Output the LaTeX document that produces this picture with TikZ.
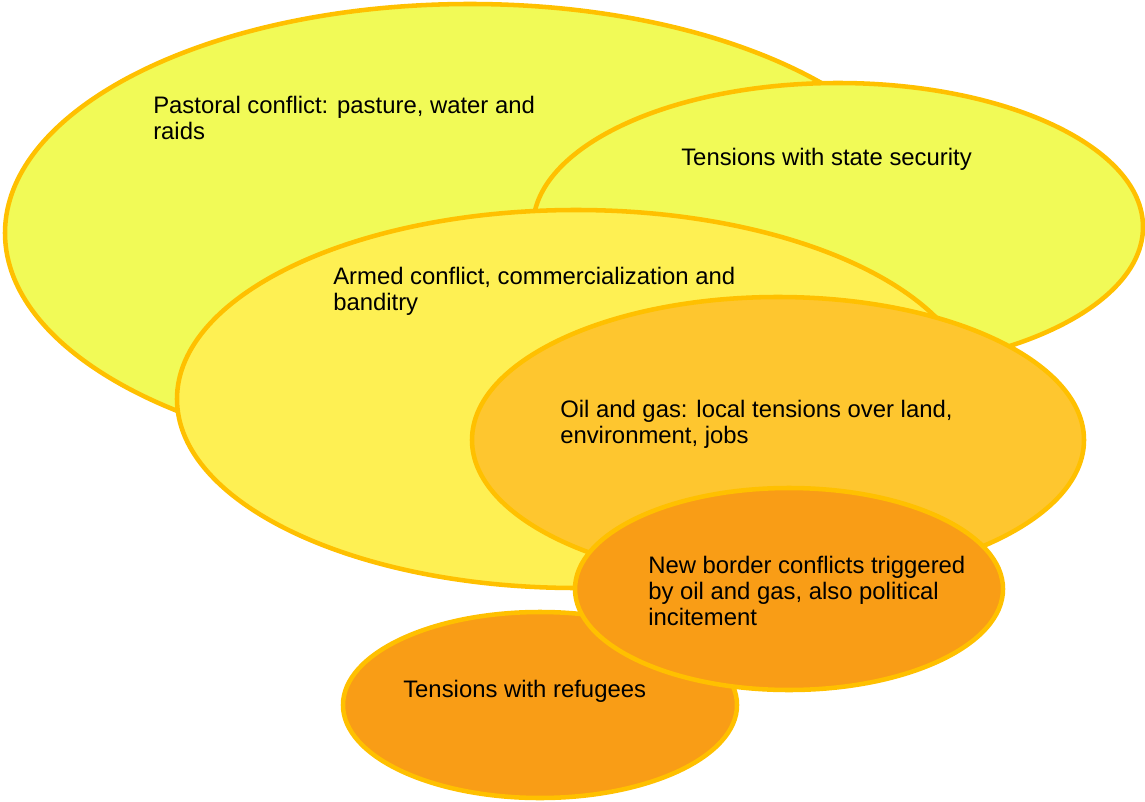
\documentclass[tikz,border=0pt]{standalone}
\usepackage{fontspec}
\setmainfont{Liberation Sans}
\definecolor{edgeC}{HTML}{FFC000}
\definecolor{fillA}{HTML}{F1FA57}
\definecolor{fillB}{HTML}{FEF053}
\definecolor{fillC}{HTML}{FEC62F}
\definecolor{fillD}{HTML}{F99D16}
\tikzset{
  blob/.style={draw=edgeC, line width=3.4pt},
  lbl/.style={anchor=west, align=left, inner sep=0pt, font=\fontsize{17.9}{19.6}\selectfont, text=black}
}
\begin{document}
\begin{tikzpicture}[x=0.75pt,y=-0.75pt]
\useasboundingbox (0,0) rectangle (1145,802);
\path[blob, fill=fillA] (470,233) ellipse [x radius=465, y radius=229];
\path[blob, fill=fillA] (838,227) ellipse [x radius=305, y radius=144];
\path[blob, fill=fillB] (576,399) ellipse [x radius=399, y radius=189];
\path[blob, fill=fillC] (778,440) ellipse [x radius=306, y radius=143];
\path[blob, fill=fillD] (540,705) ellipse [x radius=197, y radius=93];
\path[blob, fill=fillD] (789,589) ellipse [x radius=214, y radius=101];
\node[lbl] (pastoral) at (153,118) {Pastoral conflict: pasture, water and\\raids};
\node[lbl] (state) at (681,159) {Tensions with state security};
\node[lbl] (armed) at (333,291) {Armed conflict, commercialization and\\banditry};
\node[lbl] (oil) at (560,424) {Oil and gas: local tensions over land,\\environment, jobs};
\node[lbl] (border) at (648,591) {New border conflicts triggered\\by oil and gas, also political\\incitement};
\node[lbl] (refugees) at (403,691) {Tensions with refugees};
\end{tikzpicture}
\end{document}
